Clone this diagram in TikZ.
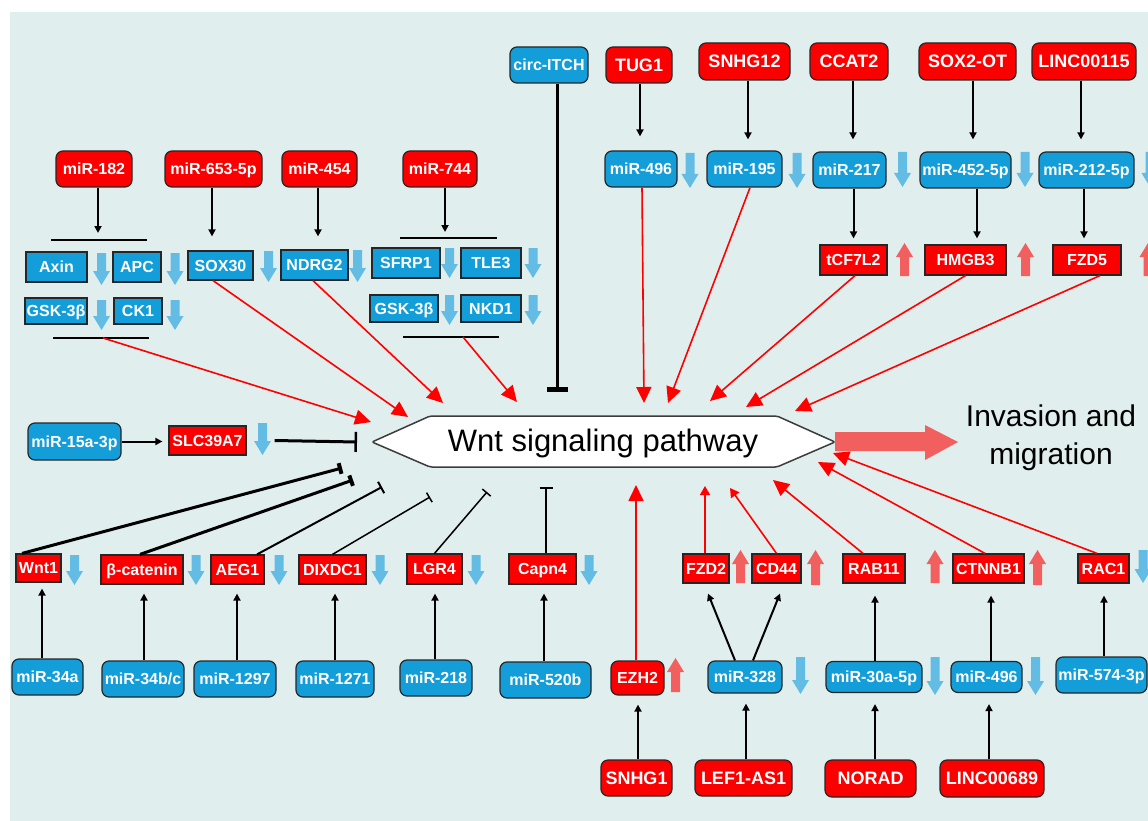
\documentclass[tikz,border=0pt]{standalone}
\usepackage{fontspec}
\setmainfont{Liberation Sans}
\usetikzlibrary{arrows.meta,calc}
\definecolor{bg}{HTML}{E1EEEE}
\definecolor{boxred}{HTML}{FA0000}
\definecolor{boxblue}{HTML}{139DD9}
\definecolor{boxline}{HTML}{262626}
\definecolor{arrblue}{HTML}{62BCE4}
\definecolor{arrred}{HTML}{F15F5F}
\definecolor{linered}{HTML}{FF0000}
\begin{document}
\begin{tikzpicture}[x=1pt,y=-1pt,
  base/.style={draw=boxline, line width=1.2pt, inner sep=0pt, text=white,
    font=\bfseries\fontsize{16}{16}\selectfont, text height=11.5pt, text depth=0pt},
  rbox/.style={base, fill=boxred, rounded corners=7pt, minimum height=36pt},
  bbox/.style={base, fill=boxblue, rounded corners=7pt, minimum height=36pt},
  rrect/.style={base, fill=boxred, minimum height=30pt},
  brect/.style={base, fill=boxblue, minimum height=30pt},
  bigtxt/.style={font=\bfseries\fontsize{18}{18}\selectfont, text height=12.9pt},
  karr/.style={draw=black, line width=2pt, -{Triangle[length=7pt,width=7pt]}},
  rarr/.style={draw=linered, line width=1.6pt, -{Triangle[length=16pt,width=15pt]}},
  rarrs/.style={draw=linered, line width=1.6pt, -{Triangle[length=9pt,width=10pt]}},
  barline/.style={draw=black, line width=2pt},
  pics/darr/.style={code={\fill[arrblue] (-4.5,0) -- (4.5,0) -- (4.5,#1-14) -- (8.5,#1-14) -- (0,#1) -- (-8.5,#1-14) -- (-4.5,#1-14) -- cycle;}},
  pics/uarr/.style={code={\fill[arrred] (-4.5,#1) -- (4.5,#1) -- (4.5,14) -- (8.5,14) -- (0,0) -- (-8.5,14) -- (-4.5,14) -- cycle;}},
]
\useasboundingbox (0,0) rectangle (1148,821);
\clip (0,0) rectangle (1148,821);
\fill[white] (0,0) rectangle (1148,821);
\fill[bg] (10,12) rectangle (1148,821);

% ---------- Wnt shape ----------
\draw[fill=white, draw=boxline!90, line width=1.5pt, rounded corners=2pt]
  (430,416) -- (777,416) -- (835,442) -- (777,467) -- (430,467) -- (372,442) -- cycle;
\node[font=\fontsize{31}{31}\selectfont, anchor=base, inner sep=0pt] (wnt) at (603,451) {Wnt signaling pathway};

% big arrow and outcome
\fill[arrred] (835,432) -- (925,432) -- (925,425) -- (958,442) -- (925,460) -- (925,451) -- (835,451) -- cycle;
\node[font=\fontsize{30}{38}\selectfont, align=center, anchor=north, inner sep=0pt] (inv) at (1051,405) {Invasion and\\migration};

% ---------- top-left group ----------
\node[rbox, minimum width=76pt] (m182) at (94,169) {miR-182};
\node[rbox, minimum width=97pt] (m653) at (213.5,169) {miR-653-5p};
\node[rbox, minimum width=75pt] (m454) at (319.5,169) {miR-454};
\node[rbox, minimum width=74pt] (m744) at (440,169) {miR-744};

\node[brect, minimum width=61pt] (axin) at (56.5,267) {Axin};
\node[brect, minimum width=48pt] (apc) at (137,267) {APC};
\node[brect, minimum width=65pt, minimum height=29pt] (sox30) at (220.5,265.5) {SOX30};
\node[brect, minimum width=67pt] (ndrg2) at (314.5,265) {NDRG2};
\node[brect, minimum width=62pt, minimum height=26pt] (gsk1) at (56,311) {GSK-3β};
\node[brect, minimum width=48pt, minimum height=26pt] (ck1) at (138,311) {CK1};
\node[brect, minimum width=68pt] (sfrp1) at (406,263) {SFRP1};
\node[brect, minimum width=60pt] (tle3) at (491,263) {TLE3};
\node[brect, minimum width=68pt, minimum height=27pt] (gsk2) at (404,308.5) {GSK-3β};
\node[brect, minimum width=60pt, minimum height=27pt] (nkd1) at (491,308.5) {NKD1};

\pic at (101.5,253) {darr=32};
\pic at (175,253) {darr=32};
\pic at (268.5,251) {darr=31};
\pic at (357.5,250) {darr=32};
\pic at (101.5,300) {darr=30};
\pic at (175,300) {darr=30};
\pic at (449.5,248) {darr=30};
\pic at (533,248) {darr=30};
\pic at (449.5,295) {darr=30};
\pic at (533,295) {darr=30};

\coordinate (b1l) at (51,240); \coordinate (b1r) at (147,240); \coordinate (b1t) at (98,240);
\coordinate (b2l) at (53,338); \coordinate (b2r) at (149,338); \coordinate (b2s) at (103,338);
\coordinate (b3l) at (400,238); \coordinate (b3r) at (497,238); \coordinate (b3t) at (445,238);
\coordinate (b4l) at (403,337); \coordinate (b4r) at (499,337); \coordinate (b4s) at (463,337);
\draw[barline] (b1l) -- (b1r);
\draw[barline] (b2l) -- (b2r);
\draw[barline] (b3l) -- (b3r);
\draw[barline] (b4l) -- (b4r);

\draw[karr, shorten >=7pt] (b1t |- m182.south) -- (b1t);
\draw[karr, shorten >=14pt] ([xshift=-1.5pt]m653.south) -- ([xshift=-1.5pt]m653.south |- sox30.north);
\draw[karr, shorten >=13pt] ([xshift=-1.5pt]m454.south) -- ([xshift=-1.5pt]m454.south |- ndrg2.north);
\draw[karr, shorten >=6pt] (b3t |- m744.south) -- (b3t);

% ---------- top-right group ----------
\node[bbox, minimum width=78pt] (circ) at (549,65) {circ-ITCH};
\node[rbox, bigtxt, minimum width=66pt] (tug1) at (639,65) {TUG1};
\node[rbox, bigtxt, minimum width=91pt, minimum height=37pt] (snhg12) at (744.5,61.5) {SNHG12};
\node[rbox, bigtxt, minimum width=78pt, minimum height=37pt] (ccat2) at (849,61.5) {CCAT2};
\node[rbox, bigtxt, minimum width=97pt, minimum height=37pt] (sox2ot) at (967.5,61.5) {SOX2-OT};
\node[rbox, bigtxt, minimum width=104pt, minimum height=37pt] (linc115) at (1084,61.5) {LINC00115};

\node[bbox, minimum width=72pt] (m496a) at (641,169) {miR-496};
\node[bbox, minimum width=75pt] (m195) at (744.5,169) {miR-195};
\node[bbox, minimum width=73pt] (m217) at (849.5,170) {miR-217};
\node[bbox, minimum width=91pt] (m452) at (965.5,170) {miR-452-5p};
\node[bbox, minimum width=95pt] (m212) at (1086.5,170) {miR-212-5p};

\pic at (690,153) {darr=35};
\pic at (797,153) {darr=35};
\pic at (902.5,152) {darr=35};
\pic at (1025,152) {darr=35};
\pic at (1150,152) {darr=35};

\node[rrect, minimum width=67pt] (tcf) at (853.5,260) {tCF7L2};
\node[rrect, minimum width=81pt] (hmgb3) at (965.5,260) {HMGB3};
\node[rrect, minimum width=68pt] (fzd5) at (1087,260) {FZD5};

\pic at (904.5,243) {uarr=33};
\pic at (1025.5,243) {uarr=33};
\pic at (1148,243) {uarr=33};

\draw[karr, shorten >=14pt] ([xshift=1pt]tug1.south) -- ([xshift=1pt]tug1.south |- m496a.north);
\draw[karr, shorten >=11pt] ([xshift=3.5pt]snhg12.south) -- ([xshift=3.5pt]snhg12.south |- m195.north);
\draw[karr, shorten >=12pt] ([xshift=4pt]ccat2.south) -- ([xshift=4pt]ccat2.south |- m217.north);
\draw[karr, shorten >=12pt] ([xshift=5.5pt]sox2ot.south) -- ([xshift=5.5pt]sox2ot.south |- m452.north);
\draw[karr, shorten >=12pt] ([xshift=-3pt]linc115.south) -- ([xshift=-3pt]linc115.south |- m212.north);
\draw[karr, shorten >=6pt] (tcf.north |- m217.south) -- (tcf.north);
\draw[karr, shorten >=6pt] ([xshift=11.5pt]hmgb3.north |- m452.south) -- ([xshift=11.5pt]hmgb3.north);
\draw[karr, shorten >=6pt] ([xshift=-3pt]fzd5.north |- m212.south) -- ([xshift=-3pt]fzd5.north);

% ---------- middle left ----------
\node[bbox, minimum width=93pt, minimum height=37pt] (m15a) at (74.5,441.5) {miR-15a-3p};
\node[rrect, minimum width=77pt, minimum height=29pt] (slc) at (207.5,440.5) {SLC39A7};
\pic at (262.5,423) {darr=32};
\draw[karr, shorten >=6pt] (m15a.east) -- (m15a.east -| slc.west);

% ---------- bottom-left group ----------
\node[rrect, minimum width=45pt, minimum height=28pt] (wnt1) at (38.5,568) {Wnt1};
\node[rrect, minimum width=82pt, minimum height=29pt] (bcat) at (142,569.5) {β-catenin};
\node[rrect, minimum width=53pt, minimum height=29pt] (aeg1) at (237.5,569.5) {AEG1};
\node[rrect, minimum width=67pt, minimum height=29pt] (dixdc1) at (332.5,569.5) {DIXDC1};
\node[rrect, minimum width=55pt] (lgr4) at (434.5,569) {LGR4};
\node[rrect, minimum width=67pt] (capn4) at (542.5,569) {Capn4};

\pic at (74.5,555) {darr=30};
\pic at (196,555) {darr=30};
\pic at (279,555) {darr=30};
\pic at (380,555) {darr=30};
\pic at (476,555) {darr=30};
\pic at (589,555) {darr=30};

\node[bbox, minimum width=71pt] (m34a) at (47.5,677) {miR-34a};
\node[bbox, minimum width=82pt] (m34bc) at (143,679) {miR-34b/c};
\node[bbox, minimum width=82pt] (m1297) at (235,679) {miR-1297};
\node[bbox, minimum width=78pt] (m1271) at (335,679) {miR-1271};
\node[bbox, minimum width=72pt] (m218) at (436,678) {miR-218};
\node[bbox, minimum width=91pt] (m520b) at (545.5,680) {miR-520b};

\draw[karr, shorten >=6pt] ([xshift=-5.5pt]m34a.north) -- ([xshift=-5.5pt]m34a.north |- wnt1.south);
\draw[karr, shorten >=9pt] ([xshift=1pt]m34bc.north) -- ([xshift=1pt]m34bc.north |- bcat.south);
\draw[karr, shorten >=9pt] ([xshift=2pt]m1297.north) -- ([xshift=2pt]m1297.north |- aeg1.south);
\draw[karr, shorten >=9pt] (m1271.north) -- (m1271.north |- dixdc1.south);
\draw[karr, shorten >=9pt] ([xshift=-1pt]m218.north) -- ([xshift=-1pt]m218.north |- lgr4.south);
\draw[karr, shorten >=9pt] ([xshift=-1.5pt]m520b.north) -- ([xshift=-1.5pt]m520b.north |- capn4.south);

% ---------- bottom-right group ----------
\node[rbox, minimum width=53pt, minimum height=34pt] (ezh2) at (637.5,678) {EZH2};
\node[rrect, minimum width=46pt, minimum height=29pt] (fzd2) at (706,568.5) {FZD2};
\node[rrect, minimum width=49pt, minimum height=29pt] (cd44) at (776.5,568.5) {CD44};
\node[rrect, minimum width=62pt, minimum height=29pt] (rab11) at (874,568.5) {RAB11};
\node[rrect, minimum width=71pt, minimum height=29pt] (ctnnb1) at (988.5,568.5) {CTNNB1};
\node[rrect, minimum width=51pt, minimum height=29pt] (rac1) at (1103.5,568.5) {RAC1};

\pic at (675.5,658) {uarr=34};
\pic at (740.5,550) {uarr=33};
\pic at (815.5,550) {uarr=35};
\pic at (935,550) {uarr=33};
\pic at (1037.5,550) {uarr=35};
\pic at (1143,550) {darr=33};

\node[bbox, minimum width=74pt, minimum height=32pt] (m328) at (745,677) {miR-328};
\node[bbox, minimum width=96pt, minimum height=31pt] (m30a) at (874,677) {miR-30a-5p};
\node[bbox, minimum width=71pt, minimum height=31pt] (m496b) at (986.5,677) {miR-496};
\node[bbox, minimum width=91pt] (m574) at (1101.5,675) {miR-574-3p};

\pic at (800.5,657) {darr=37};
\pic at (935,657) {darr=38};
\pic at (1035.5,657) {darr=38};

\node[rbox, bigtxt, minimum width=71pt] (snhg1) at (636.5,778) {SNHG1};
\node[rbox, bigtxt, minimum width=97pt] (lef1) at (743.5,778) {LEF1-AS1};
\node[rbox, bigtxt, minimum width=91pt, minimum height=37pt] (norad) at (870.5,778.5) {NORAD};
\node[rbox, bigtxt, minimum width=104pt, minimum height=37pt] (linc689) at (992,778.5) {LINC00689};

\draw[karr, shorten >=9pt] ([xshift=1.5pt]snhg1.north) -- ([xshift=1.5pt]snhg1.north |- ezh2.south);
\draw[karr, shorten >=10pt] ([xshift=2.5pt]lef1.north) -- ([xshift=2.5pt]lef1.north |- m328.south);
\draw[karr, shorten >=11pt] ([xshift=4.5pt]norad.north) -- ([xshift=4.5pt]norad.north |- m30a.south);
\draw[karr, shorten >=11pt] ([xshift=-3pt]linc689.north) -- ([xshift=-3pt]linc689.north |- m496b.south);
\draw[karr] ([xshift=-10pt]m328.north) -- ([xshift=2pt,yshift=-10pt]fzd2.south);
\draw[karr] ([xshift=8pt]m328.north) -- ([xshift=3.5pt,yshift=-10pt]cd44.south);
\draw[karr, shorten >=12pt] ([xshift=1pt]m30a.north) -- ([xshift=1pt]m30a.north |- rab11.south);
\draw[karr, shorten >=12pt] ([xshift=4.5pt]m496b.north) -- ([xshift=4.5pt]m496b.north |- ctnnb1.south);
\draw[karr, shorten >=12pt] ([xshift=2.5pt]m574.north) -- ([xshift=2.5pt]m574.north |- rac1.south);

% ---------- red activating arrows to the pathway ----------
\coordinate (w1) at (371,422);
\coordinate (w2) at (408,417);
\coordinate (w3) at (443,403);
\coordinate (w4) at (517,402);
\coordinate (w5) at (644,403);
\coordinate (w6) at (668,403);
\coordinate (w7) at (710,401);
\coordinate (w8) at (746,407);
\coordinate (w9) at (795,411);
\coordinate (w10) at (636,485);
\coordinate (w11) at (705,486);
\coordinate (w12) at (730,488);
\coordinate (w13) at (773,480);
\coordinate (w14) at (818,462);
\coordinate (w15) at (833,453);

\draw[rarr] (b2s) -- (w1);
\draw[rarr] ([xshift=-7.5pt]sox30.south) -- (w2);
\draw[rarr] ([xshift=-1.5pt]ndrg2.south) -- (w3);
\draw[rarr] (b4s) -- (w4);
\draw[rarr] ([xshift=1pt]m496a.south) -- (w5);
\draw[rarr] ([xshift=5.5pt]m195.south) -- (w6);
\draw[rarr] ([xshift=1.5pt]tcf.south) -- (w7);
\draw[rarr] (hmgb3.south) -- (w8);
\draw[rarr] ([xshift=13pt]fzd5.south) -- (w9);
\draw[rarr] ([xshift=-1.5pt]ezh2.north) -- (w10);
\draw[rarrs] ([xshift=-1pt]fzd2.north) -- (w11);
\draw[rarrs] (cd44.north) -- (w12);
\draw[rarr] ([xshift=-11pt]rab11.north) -- (w13);
\draw[rarr] ([xshift=-3.5pt]ctnnb1.north) -- (w14);
\draw[rarr] ([xshift=-6.5pt]rac1.north) -- (w15);

% ---------- inhibitory connectors ----------
\coordinate (t0) at (557,392);
\coordinate (t1) at (357,442);
\coordinate (t2) at (342,468);
\coordinate (t3) at (353,480);
\coordinate (t4) at (382,487);
\coordinate (t5) at (430,497);
\coordinate (t6) at (487,492);
\coordinate (t7) at (546,487);

\draw[line width=3pt, -{Bar[width=21pt,line width=5pt]}] ([xshift=8pt]circ.south) -- (t0);
\draw[line width=3pt, -{Bar[width=20pt,line width=2.5pt]}] ([xshift=28pt]slc.east) -- (t1);
\draw[line width=3pt, -{Bar[width=11pt,line width=4pt]}] ([xshift=-16.5pt]wnt1.north) -- (t2);
\draw[line width=3pt, -{Bar[width=11pt,line width=4pt]}] ([xshift=-2pt]bcat.north) -- (t3);
\draw[line width=2pt, -{Bar[width=13pt,line width=2pt]}] ([xshift=19.5pt]aeg1.north) -- (t4);
\draw[line width=1.5pt, -{Bar[width=11pt,line width=1.5pt]}] (dixdc1.north) -- (t5);
\draw[line width=1.5pt, -{Bar[width=11pt,line width=1.5pt]}] (lgr4.north) -- (t6);
\draw[line width=1.3pt, -{Bar[width=13pt,line width=1.5pt]}] ([xshift=3.5pt]capn4.north) -- (t7);
\end{tikzpicture}
\end{document}
